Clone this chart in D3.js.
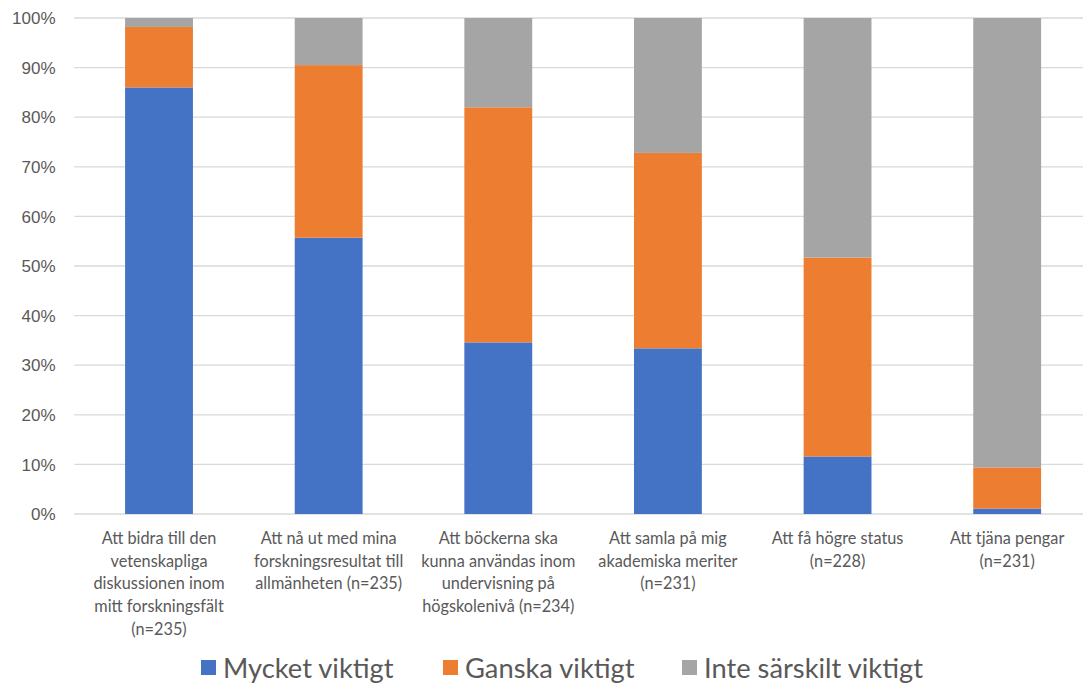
<!DOCTYPE html>
<html><head><meta charset="utf-8">
<script src="https://cdn.jsdelivr.net/npm/d3@7"></script>
<style>
html,body{margin:0;padding:0;background:#fff;}
svg{display:block;}
</style></head>
<body>
<svg id="chart" width="1083" height="686"></svg>
<script>
const categories = [
  ["Att bidra till den", "vetenskapliga", "diskussionen inom", "mitt forskningsfält", "(n=235)"],
  ["Att nå ut med mina", "forskningsresultat till", "allmänheten (n=235)"],
  ["Att böckerna ska", "kunna användas inom", "undervisning på", "högskolenivå (n=234)"],
  ["Att samla på mig", "akademiska meriter", "(n=231)"],
  ["Att få högre status", "(n=228)"],
  ["Att tjäna pengar", "(n=231)"]
];
const seriesNames = ["Mycket viktigt", "Ganska viktigt", "Inte särskilt viktigt"];
const mycket = [0.860, 0.557, 0.346, 0.334, 0.116, 0.011];
const ganska = [0.122, 0.348, 0.474, 0.394, 0.401, 0.083];
const inte   = [0.018, 0.095, 0.180, 0.272, 0.483, 0.906];
const yTicks = [0, 0.1, 0.2, 0.3, 0.4, 0.5, 0.6, 0.7, 0.8, 0.9, 1.0];
const colors = ["#4472c4", "#ed7d31", "#a5a5a5"];

(function () {
const svg = d3.select("#chart");
const pLeft = 74.2, pRight = 1092, pTop = 18, pBottom = 514;

const x = d3.scaleBand().domain(d3.range(categories.length)).range([pLeft, pRight])
  .paddingInner(0.6).paddingOuter(0.3);
const y = d3.scaleLinear().domain([0, 1]).range([pBottom, pTop]);

// gridlines
svg.append("g").selectAll("line").data(yTicks).join("line")
  .attr("x1", pLeft).attr("x2", pRight)
  .attr("y1", d => y(d)).attr("y2", d => y(d))
  .attr("stroke", "#d9d9d9").attr("stroke-width", 1.3);

// y axis labels
const yAxis = d3.axisLeft(y).tickValues(yTicks).tickFormat(d3.format(".0%")).tickSize(0).tickPadding(0);
const ya = svg.append("g").attr("transform", `translate(55.5,0)`).call(yAxis);
ya.select(".domain").remove();
ya.selectAll("text").attr("font-family", "Liberation Sans, Arial, sans-serif")
  .attr("font-size", 17).attr("fill", "#595959").attr("dy", "0.34em");

// stacked data
const table = categories.map((c, i) => ({i, s0: mycket[i], s1: ganska[i], s2: inte[i]}));
const stacked = d3.stack().keys(["s0", "s1", "s2"])(table);

svg.append("g").selectAll("g").data(stacked).join("g")
  .attr("fill", (d, k) => colors[k])
  .selectAll("rect").data(d => d).join("rect")
  .attr("x", d => x(d.data.i))
  .attr("width", x.bandwidth())
  .attr("y", d => y(d[1]))
  .attr("height", d => y(d[0]) - y(d[1]));

// x labels
const xl = svg.append("g");
categories.forEach((lines, i) => {
  const cx = x(i) + x.bandwidth() / 2;
  const t = xl.append("text")
    .attr("x", cx).attr("y", 544)
    .attr("text-anchor", "middle")
    .attr("font-family", "Lato, 'Open Sans', sans-serif")
    .attr("font-size", 16.3)
    .attr("fill", "#595959");
  lines.forEach((ln, j) => {
    t.append("tspan").attr("x", cx).attr("dy", j === 0 ? 0 : 22.7).text(ln);
  });
});

// legend
const legendX = [201, 443, 682];
const lg = svg.append("g");
seriesNames.forEach((name, k) => {
  lg.append("rect").attr("x", legendX[k]).attr("y", 660).attr("width", 15).attr("height", 15).attr("fill", colors[k]);
  lg.append("text").attr("x", legendX[k] + 22).attr("y", 678)
    .attr("font-family", "Lato, 'Open Sans', sans-serif")
    .attr("font-size", 27.3).attr("fill", "#595959").text(name);
});
})();
</script>
</body></html>
